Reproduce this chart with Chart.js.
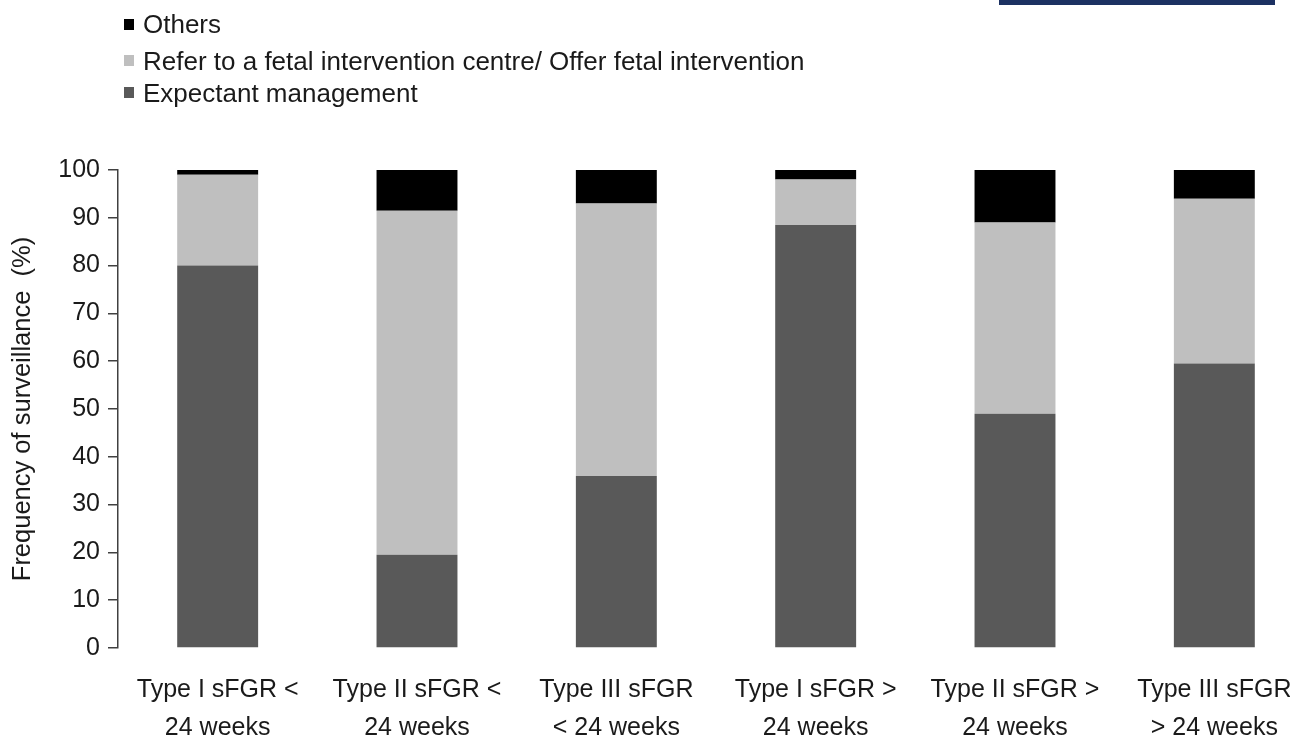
<!DOCTYPE html>
<html>
<head>
<meta charset="utf-8">
<script src="https://cdn.jsdelivr.net/npm/chart.js@4.4.1/dist/chart.umd.min.js"></script>
<style>
    body { margin: 0; background: #ffffff; overflow: hidden; font-family: "Liberation Sans", Arial, sans-serif; }
    .pagina { position: relative; width: 1290px; height: 741px; overflow: hidden; }
    .contenedor-grafico { position: absolute; left: 0; top: 0; width: 1330px; height: 750px; }
    .barra-azul { position: absolute; left: 999px; top: 0; width: 276px; height: 5px; background: #1c3162; }
    .leyenda-fila { position: absolute; left: 124px; height: 30px; line-height: 30px; font-size: 26px; color: #1a1a1a; display: flex; align-items: center; white-space: nowrap; }
    .leyenda-cuadro { width: 10px; height: 11px; margin-right: 9px; }
</style>
</head>
<body>
<div class="pagina">
    <div class="contenedor-grafico"><canvas id="grafico"></canvas></div>
    <div class="barra-azul"></div>
    <div id="leyenda"></div>
</div>
<script>
// categorias del eje x (dos lineas por etiqueta)
const categorias = [
    ["Type I sFGR <", "24 weeks"],
    ["Type II sFGR <", "24 weeks"],
    ["Type III sFGR", "< 24 weeks"],
    ["Type I sFGR >", "24 weeks"],
    ["Type II sFGR >", "24 weeks"],
    ["Type III sFGR", "> 24 weeks"]
];

// valores (%)
const expectante = [80, 19.5, 36, 88.5, 49, 59.5];
const referir = [19, 72, 57, 9.5, 40, 34.5];
const otros = [1, 8.5, 7, 2, 11, 6];

const ticksY = [0, 10, 20, 30, 40, 50, 60, 70, 80, 90, 100];

const fuente = "'Liberation Sans', Arial, sans-serif";

const datos = {
    labels: categorias,
    datasets: [
        { label: "Expectant management", data: expectante, backgroundColor: "#595959" },
        { label: "Refer to a fetal intervention centre/ Offer fetal intervention", data: referir, backgroundColor: "#bfbfbf" },
        { label: "Others", data: otros, backgroundColor: "#000000" }
    ]
};

const grafico = new Chart(document.getElementById("grafico").getContext("2d"), {
    type: "bar",
    data: datos,
    options: {
        responsive: true,
        maintainAspectRatio: false,
        animation: false,
        layout: { padding: { left: 8, top: 170, right: 16, bottom: 3 } },
        datasets: { bar: { categoryPercentage: 1, barPercentage: 0.406, borderWidth: 0 } },
        plugins: {
            legend: { display: false },
            tooltip: { enabled: false }
        },
        scales: {
            x: {
                stacked: true,
                offset: true,
                afterFit: (escala) => { escala.height = 99; },
                grid: { display: false, drawTicks: false },
                border: { display: false },
                ticks: {
                    maxRotation: 0,
                    autoSkip: false,
                    padding: 23,
                    color: "#1a1a1a",
                    font: { family: fuente, size: 25, lineHeight: 1.52 }
                }
            },
            y: {
                stacked: true,
                min: 0,
                max: 100,
                afterFit: (escala) => { escala.width = 110; },
                afterBuildTicks: (escala) => {
                    escala.ticks = ticksY.map((v) => ({ value: v }));
                },
                grid: { drawOnChartArea: false, drawTicks: true, tickLength: 10, color: "#404040", lineWidth: 1.5 },
                border: { display: true, color: "#404040", width: 1.5 },
                ticks: {
                    padding: 8,
                    color: "#1a1a1a",
                    font: { family: fuente, size: 25 }
                },
                title: {
                    display: true,
                    text: "Frequency of surveillance  (%)",
                    color: "#1a1a1a",
                    font: { family: fuente, size: 25.5, lineHeight: 1.2 },
                    padding: { top: 0, bottom: 20 }
                }
            }
        }
    }
});

// leyenda en columna, en orden inverso a la pila
const filasLeyenda = [9, 45.5, 77.5];
const leyenda = document.getElementById("leyenda");
datos.datasets.slice().reverse().forEach((ds, i) => {
    const fila = document.createElement("div");
    fila.className = "leyenda-fila";
    fila.style.top = filasLeyenda[i] + "px";
    const cuadro = document.createElement("span");
    cuadro.className = "leyenda-cuadro";
    cuadro.style.background = ds.backgroundColor;
    const texto = document.createElement("span");
    texto.textContent = ds.label;
    fila.appendChild(cuadro);
    fila.appendChild(texto);
    leyenda.appendChild(fila);
});
</script>
</body>
</html>
